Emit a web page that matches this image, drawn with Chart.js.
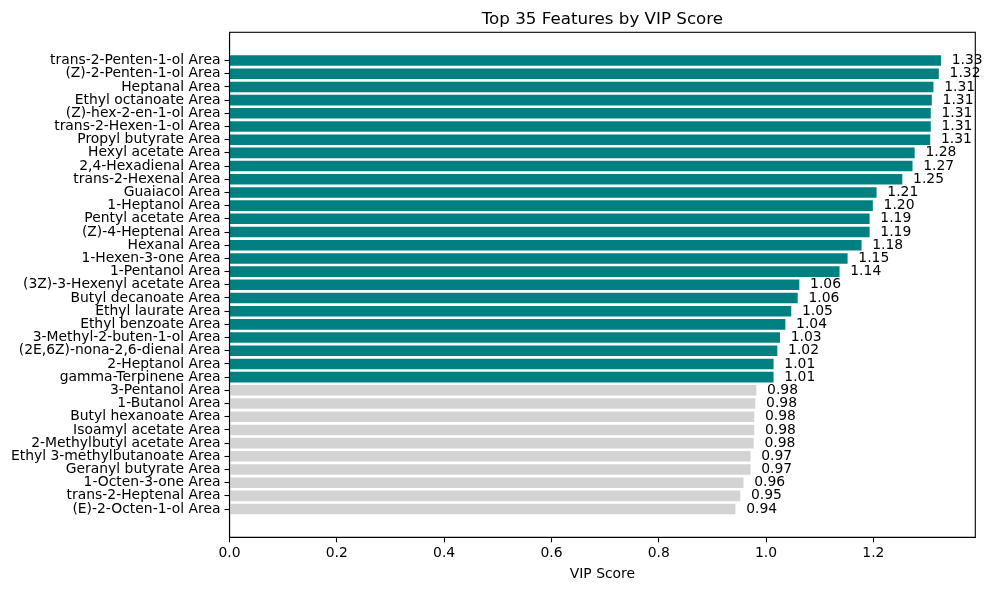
<!DOCTYPE html>
<html>
<head>
<meta charset="utf-8">
<script src="https://cdn.jsdelivr.net/npm/chart.js@4/dist/chart.umd.min.js"></script>
<style>
  html, body { margin: 0; padding: 0; background: #fff; }
  #wrap { width: 990px; height: 590px; }
</style>
</head>
<body>
<div id="wrap"><canvas id="c" width="990" height="590"></canvas></div>
<script>
const features = [
  "trans-2-Penten-1-ol Area", "(Z)-2-Penten-1-ol Area", "Heptanal Area", "Ethyl octanoate Area",
  "(Z)-hex-2-en-1-ol Area", "trans-2-Hexen-1-ol Area", "Propyl butyrate Area", "Hexyl acetate Area",
  "2,4-Hexadienal Area", "trans-2-Hexenal Area", "Guaiacol Area", "1-Heptanol Area",
  "Pentyl acetate Area", "(Z)-4-Heptenal Area", "Hexanal Area", "1-Hexen-3-one Area",
  "1-Pentanol Area", "(3Z)-3-Hexenyl acetate Area", "Butyl decanoate Area", "Ethyl laurate Area",
  "Ethyl benzoate Area", "3-Methyl-2-buten-1-ol Area", "(2E,6Z)-nona-2,6-dienal Area", "2-Heptanol Area",
  "gamma-Terpinene Area", "3-Pentanol Area", "1-Butanol Area", "Butyl hexanoate Area",
  "Isoamyl acetate Area", "2-Methylbutyl acetate Area", "Ethyl 3-methylbutanoate Area", "Geranyl butyrate Area",
  "1-Octen-3-one Area", "trans-2-Heptenal Area", "(E)-2-Octen-1-ol Area"
];
const vipScores = [
  1.326, 1.322, 1.312, 1.309, 1.307, 1.307, 1.306, 1.277,
  1.273, 1.254, 1.206, 1.199, 1.193, 1.193, 1.178, 1.152,
  1.137, 1.062, 1.059, 1.047, 1.036, 1.026, 1.021, 1.014,
  1.014, 0.982, 0.980, 0.978, 0.978, 0.977, 0.971, 0.971,
  0.958, 0.952, 0.943
];
const xTicks = [0.0, 0.2, 0.4, 0.6, 0.8, 1.0, 1.2];
const threshold = 1.0;
const titleText = "Top 35 Features by VIP Score";
const xLabel = "VIP Score";

const FONT = "'DejaVu Sans', sans-serif";
const FS = 13.9;

const framePlugin = {
  id: 'frame',
  afterDraw(chart) {
    const ctx = chart.ctx, a = chart.chartArea;
    ctx.save();
    ctx.strokeStyle = '#000';
    ctx.lineWidth = 1.1;
    ctx.strokeRect(a.left, a.top, a.right - a.left, a.bottom - a.top);
    ctx.fillStyle = '#000';
    ctx.font = '16.7px ' + FONT;
    ctx.textAlign = 'center';
    ctx.textBaseline = 'alphabetic';
    ctx.fillText(titleText, (a.left + a.right) / 2, a.top - 8.3);
    ctx.restore();
  }
};

const valueLabelPlugin = {
  id: 'valueLabels',
  afterDatasetsDraw(chart) {
    const ctx = chart.ctx;
    const xs = chart.scales.x, ys = chart.scales.y;
    ctx.save();
    ctx.fillStyle = '#000';
    ctx.font = FS + 'px ' + FONT;
    ctx.textAlign = 'left';
    ctx.textBaseline = 'middle';
    vipScores.forEach((v, i) => {
      ctx.fillText(v.toFixed(2), xs.getPixelForValue(v + 0.02), ys.getPixelForValue(i));
    });
    ctx.restore();
  }
};

new Chart(document.getElementById('c'), {
  type: 'bar',
  data: {
    datasets: [{
      data: vipScores.map((v, i) => ({ x: v, y: i })),
      backgroundColor: vipScores.map(v => v > threshold ? '#008080' : '#d3d3d3'),
      borderWidth: 0,
      barPercentage: 0.8,
      categoryPercentage: 1.0
    }]
  },
  options: {
    indexAxis: 'y',
    responsive: false,
    animation: false,
    devicePixelRatio: 1,
    layout: { padding: { left: 0, right: 14.7, top: 32.3, bottom: 0 } },
    plugins: { legend: { display: false }, title: { display: false }, tooltip: { enabled: false } },
    scales: {
      x: {
        type: 'linear',
        min: 0,
        max: 1.39,
        offset: false,
        afterFit(s) { s.height = 52.7; },
        afterBuildTicks(s) { s.ticks = xTicks.map(v => ({ value: v })); },
        grid: { drawOnChartArea: false, drawTicks: true, tickLength: 5, tickColor: '#000', tickWidth: 1.1 },
        border: { display: true, color: '#000', width: 1.1 },
        ticks: { color: '#000', font: { family: FONT, size: FS }, padding: 3, maxRotation: 0,
                 callback: v => Number(v).toFixed(1) },
        title: { display: true, text: xLabel, color: '#000', font: { family: FONT, size: FS },
                 padding: { top: 4, bottom: 7 } }
      },
      y: {
        type: 'linear',
        reverse: true,
        offset: false,
        min: -2.14,
        max: 36.14,
        afterFit(s) { s.width = 229.5; },
        afterBuildTicks(s) { s.ticks = features.map((_, i) => ({ value: i })); },
        grid: { offset: false, drawOnChartArea: false, drawTicks: true, tickLength: 5, tickColor: '#000', tickWidth: 1.1 },
        border: { display: true, color: '#000', width: 1.1 },
        ticks: { color: '#000', font: { family: FONT, size: FS }, padding: 4, autoSkip: false,
                 callback: v => features[v] }
      }
    }
  },
  plugins: [framePlugin, valueLabelPlugin]
});
</script>
</body>
</html>
